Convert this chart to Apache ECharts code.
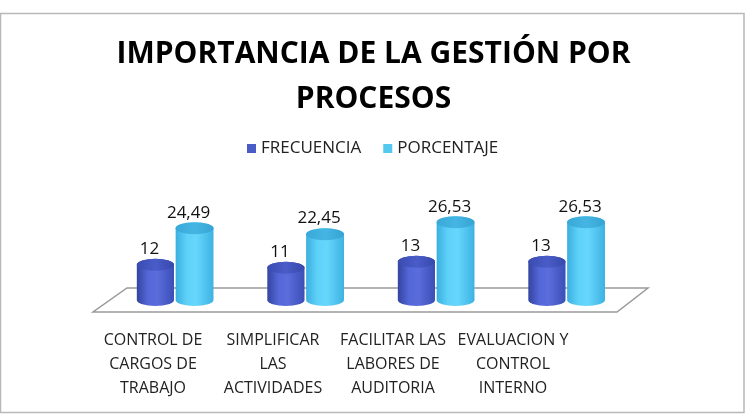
<!DOCTYPE html>
<html><head><meta charset="utf-8">
<script src="https://cdn.jsdelivr.net/npm/echarts@6/dist/echarts.min.js"></script>
<style>html,body{margin:0;padding:0;background:#fff}#c{width:747px;height:416px}</style>
</head><body><div id="c"></div>
<script>
const categories = ['CONTROL DE\nCARGOS DE\nTRABAJO', 'SIMPLIFICAR\nLAS\nACTIVIDADES', 'FACILITAR LAS\nLABORES DE\nAUDITORIA', 'EVALUACION Y\nCONTROL\nINTERNO'];
const frecuencia = [12, 11, 13, 13];
const porcentaje = [24.49, 22.45, 26.53, 26.53];
const seriesNames = ['FRECUENCIA', 'PORCENTAJE'];
const titleText = 'IMPORTANCIA DE LA GESTIÓN POR\nPROCESOS';
const valueMin = 0, valueMax = 30;

const FONT = 'Open Sans';

function cylinder(offsetFrac, widthFrac, bodyStops, topStops) {
  return function (params, api) {
    const idx = api.value(0);
    const v = api.value(1);
    const top = api.coord([idx, v]);
    const base = api.coord([idx, 0]);
    const band = api.size([1, 0])[0];
    const w = band * widthFrac;
    const cx = top[0] + band * offsetFrac;
    const rx = w / 2, ry = 6;
    const l = cx - rx, r = cx + rx;
    const yt = top[1], yb = base[1];
    const body = 'M' + l + ' ' + yt + ' L' + l + ' ' + yb +
      ' A' + rx + ' ' + ry + ' 0 0 0 ' + r + ' ' + yb +
      ' L' + r + ' ' + yt +
      ' A' + rx + ' ' + ry + ' 0 0 0 ' + l + ' ' + yt + ' Z';
    const cap = 'M' + l + ' ' + yt +
      ' A' + rx + ' ' + ry + ' 0 0 0 ' + r + ' ' + yt +
      ' A' + rx + ' ' + ry + ' 0 0 0 ' + l + ' ' + yt + ' Z';
    const txt = String(v).replace('.', ',');
    return {
      type: 'group',
      children: [
        { type: 'path', shape: { pathData: body },
          style: { fill: new echarts.graphic.LinearGradient(0, 0, 1, 0, bodyStops), stroke: null } },
        { type: 'path', shape: { pathData: cap },
          style: { fill: new echarts.graphic.LinearGradient(0, 0, 1, 0, topStops), stroke: null } },
        { type: 'text', x: cx - 6, y: yt - ry - 1,
          style: { text: txt, align: 'center', verticalAlign: 'bottom', fontSize: 17, fontFamily: FONT, fill: '#111' } }
      ]
    };
  };
}

const option = {
  backgroundColor: '#fff',
  animation: false,
  title: {
    text: titleText, left: 'center', top: 32, padding: 0,
    textStyle: { fontFamily: FONT, fontWeight: 'bold', fontSize: 30, lineHeight: 45, color: '#000', align: 'center' }
  },
  legend: {
    data: seriesNames, icon: 'rect', itemWidth: 9, itemHeight: 9, left: 247, top: 140, itemGap: 22, padding: 0,
    textStyle: { fontFamily: FONT, fontSize: 17, color: '#222' }
  },
  grid: [
    { left: 110, width: 522, top: 212, height: 88 },
    { left: 93, width: 480, top: 200, height: 122 }
  ],
  xAxis: [
    { type: 'category', gridIndex: 0, data: categories, show: false },
    { type: 'category', gridIndex: 1, data: categories,
      axisLine: { show: false }, axisTick: { show: false },
      axisLabel: { interval: 0, fontFamily: FONT, fontSize: 16, lineHeight: 24, color: '#222', margin: 6 } }
  ],
  yAxis: [
    { type: 'value', gridIndex: 0, min: valueMin, max: valueMax, show: false },
    { type: 'value', gridIndex: 1, min: valueMin, max: valueMax, show: false }
  ],
  graphic: [
    { type: 'rect', z: -10, shape: { x: 0.5, y: 13.5, width: 743.5, height: 399 },
      style: { fill: '#fff', stroke: '#b8b8b8', lineWidth: 1.5 } },
    { type: 'polygon', z: 0, shape: { points: [[127, 288], [648, 288], [617, 312], [93, 312]] },
      style: { fill: 'rgba(255,255,255,0)', stroke: '#9a9a9a', lineWidth: 1.5 } }
  ],
  series: [
    { type: 'custom', name: seriesNames[0], xAxisIndex: 0, yAxisIndex: 0, z: 5,
      itemStyle: { color: '#4a5cc6' },
      encode: { x: 0, y: 1 },
      data: frecuencia.map((v, i) => [i, v]),
      renderItem: cylinder(-0.152, 0.285,
        [{ offset: 0, color: '#33449f' }, { offset: 0.3, color: '#5467d8' }, { offset: 0.55, color: '#5b6ddb' }, { offset: 1, color: '#3b4db6' }],
        [{ offset: 0, color: '#3a4bb0' }, { offset: 0.5, color: '#4a5cc8' }, { offset: 1, color: '#3748ac' }]) },
    { type: 'custom', name: seriesNames[1], xAxisIndex: 0, yAxisIndex: 0, z: 6,
      itemStyle: { color: '#55c8f0' },
      encode: { x: 0, y: 1 },
      data: porcentaje.map((v, i) => [i, v]),
      renderItem: cylinder(0.148, 0.29,
        [{ offset: 0, color: '#3aaede' }, { offset: 0.3, color: '#5fd2fa' }, { offset: 0.55, color: '#66d6fc' }, { offset: 1, color: '#3db2e2' }],
        [{ offset: 0, color: '#39a8d8' }, { offset: 0.5, color: '#45b6e4' }, { offset: 1, color: '#36a4d4' }]) }
  ]
};
echarts.init(document.getElementById('c'), null, { renderer: 'canvas' }).setOption(option);
</script></body></html>
